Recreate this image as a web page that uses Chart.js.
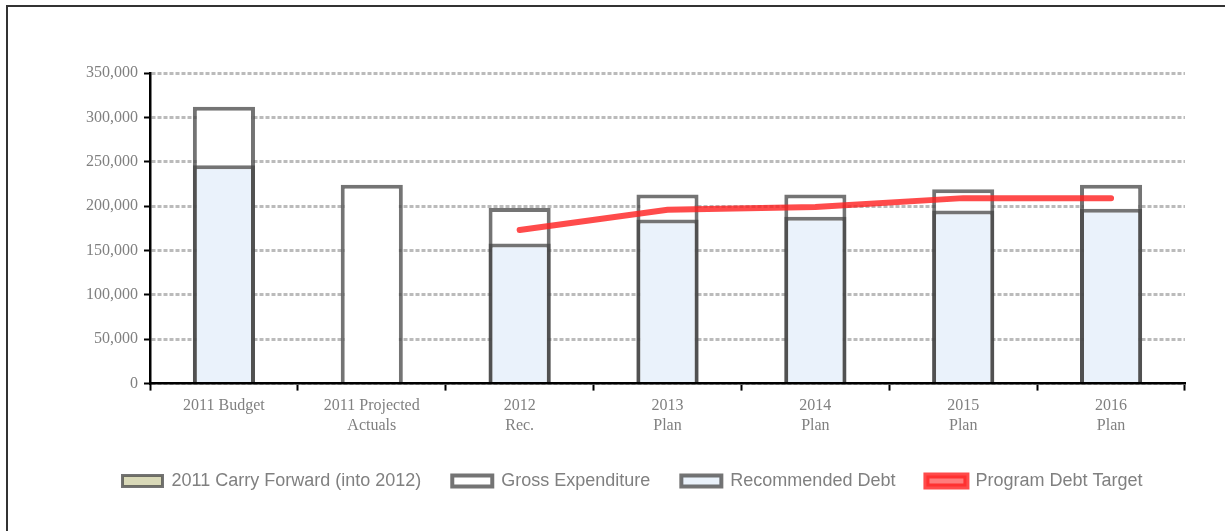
<!DOCTYPE html>
<html>
<head>
<meta charset="utf-8">
<script src="https://cdn.jsdelivr.net/npm/chart.js@4/dist/chart.umd.min.js"></script>
<style>
  html, body { margin: 0; padding: 0; background: #fff; }
  #wrap { position: relative; width: 1225px; height: 531px; overflow: hidden; }
  #frame { position: absolute; left: 6px; top: 5px; width: 1300px; height: 600px;
           border-top: 2px solid #333; border-left: 2px solid #333; }
  canvas { position: absolute; left: 0; top: 0; }
</style>
</head>
<body>
<div id="wrap">
  <div id="frame"></div>
  <canvas id="chart" width="1225" height="531"></canvas>
</div>
<script>
var categories = [
  '2011 Budget',
  ['2011 Projected', 'Actuals'],
  ['2012', 'Rec.'],
  ['2013', 'Plan'],
  ['2014', 'Plan'],
  ['2015', 'Plan'],
  ['2016', 'Plan']
];
var carryForward = [0, 0, 0, 0, 0, 0, 0];
var grossExpenditure = [312000, 224000, 198000, 213000, 213000, 219000, 224000];
var recommendedDebt = [246000, null, 158000, 185000, 188000, 195000, 197000];
var debtTarget = [null, null, 173000, 196000, 199000, 209000, 209000];

var greyText = '#808080';
var barBorder = 'rgba(70,70,70,0.75)';

var ctx = document.getElementById('chart').getContext('2d');
var chart = new Chart(ctx, {
  type: 'bar',
  data: {
    labels: categories,
    datasets: [
      {
        label: '2011 Carry Forward (into 2012)',
        data: carryForward,
        backgroundColor: '#d9d9b8',
        borderColor: barBorder,
        borderWidth: 3,
        grouped: false,
        order: 1
      },
      {
        label: 'Gross Expenditure',
        data: grossExpenditure,
        backgroundColor: '#ffffff',
        borderColor: barBorder,
        borderWidth: 4,
        grouped: false,
        order: 3
      },
      {
        label: 'Recommended Debt',
        data: recommendedDebt,
        backgroundColor: '#eaf2fb',
        borderColor: barBorder,
        borderWidth: 4,
        grouped: false,
        order: 2
      },
      {
        type: 'line',
        label: 'Program Debt Target',
        data: debtTarget,
        borderColor: 'rgba(255,30,30,0.8)',
        backgroundColor: 'rgba(255,110,110,0.9)',
        borderWidth: 6,
        borderCapStyle: 'round',
        pointRadius: 0,
        tension: 0,
        order: 0
      }
    ]
  },
  options: {
    responsive: false,
    animation: false,
    barPercentage: 0.42,
    categoryPercentage: 1,
    layout: { padding: { left: 80, right: 40, top: 73, bottom: 31 } },
    plugins: {
      tooltip: { enabled: false },
      legend: {
        position: 'bottom',
        labels: {
          color: greyText,
          font: { family: '"Liberation Sans", Arial, sans-serif', size: 18 },
          boxWidth: 40,
          boxHeight: 11,
          padding: 31,
          sort: function(a, b) { return a.datasetIndex - b.datasetIndex; }
        }
      }
    },
    scales: {
      x: {
        grid: {
          drawOnChartArea: false,
          drawTicks: true,
          tickLength: 7,
          tickColor: '#000',
          tickWidth: 2,
          offset: true
        },
        border: { color: '#000', width: 2.5 },
        ticks: {
          color: greyText,
          font: { family: '"Liberation Serif", "Times New Roman", serif', size: 16 },
          padding: 6,
          maxRotation: 0,
          autoSkip: false
        }
      },
      y: {
        min: 0,
        max: 350000,
        grid: {
          color: '#bbbbbb',
          lineWidth: 3,
          tickColor: '#000',
          tickWidth: 2,
          tickLength: 6
        },
        border: { color: '#000', width: 2.5, dash: [4, 2] },
        ticks: {
          stepSize: 50000,
          color: greyText,
          font: { family: '"Liberation Serif", "Times New Roman", serif', size: 16 },
          padding: 6,
          callback: function(v) { return v.toLocaleString('en-US'); }
        }
      }
    }
  }
});
</script>
</body>
</html>
